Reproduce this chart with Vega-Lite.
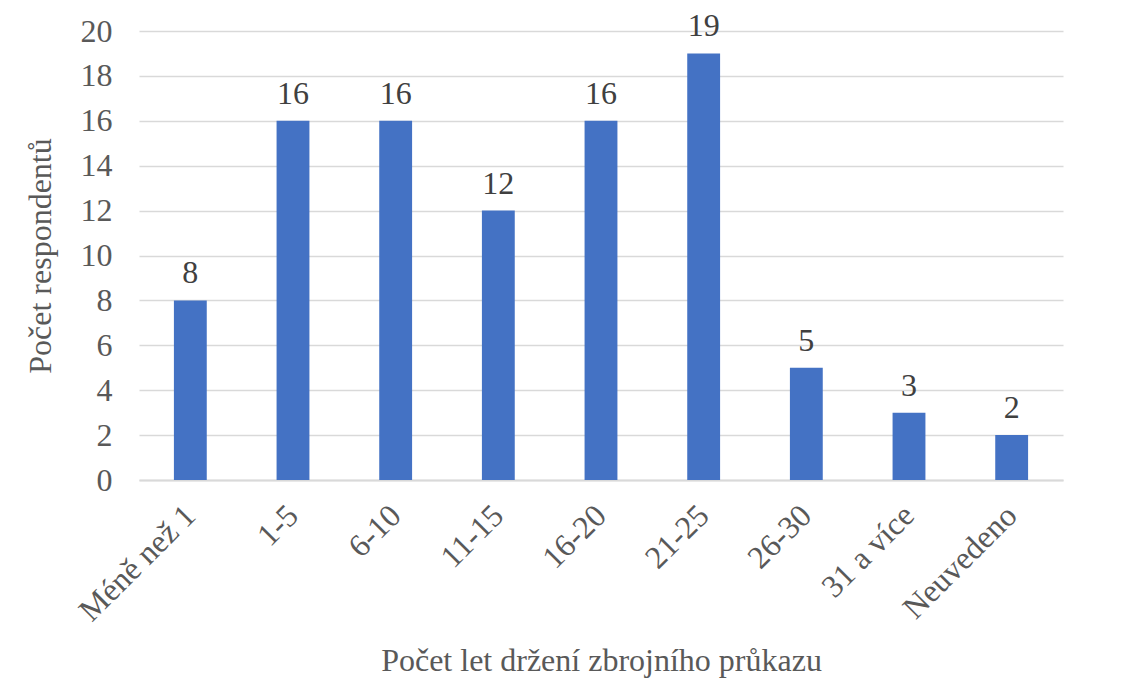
{
  "$schema": "https://vega.github.io/schema/vega-lite/v6.json",
  "width": 924,
  "height": 449,
  "autosize": {"type": "none"},
  "padding": {"left": 139, "top": 31, "right": 69, "bottom": 203},
  "background": "white",
  "config": {
    "view": {"stroke": null},
    "font": "Liberation Serif"
  },
  "data": {
    "values": [
      {"kat": "Méně než 1", "pocet": 8},
      {"kat": "1-5", "pocet": 16},
      {"kat": "6-10", "pocet": 16},
      {"kat": "11-15", "pocet": 12},
      {"kat": "16-20", "pocet": 16},
      {"kat": "21-25", "pocet": 19},
      {"kat": "26-30", "pocet": 5},
      {"kat": "31 a více", "pocet": 3},
      {"kat": "Neuvedeno", "pocet": 2}
    ]
  },
  "encoding": {
    "x": {
      "field": "kat", "type": "nominal", "sort": null,
      "scale": {"paddingInner": 0.68, "paddingOuter": 0.34},
      "axis": {
        "title": "Počet let držení zbrojního průkazu",
        "titleFont": "Liberation Serif", "titleFontSize": 32, "titleFontWeight": "normal", "titleColor": "#595959",
        "titleY": 180, "titleBaseline": "middle",
        "labelAngle": -45, "labelAlign": "right", "labelBaseline": "middle",
        "labelFont": "Liberation Serif", "labelFontSize": 32, "labelColor": "#595959",
        "labelPadding": 30,
        "ticks": false, "domainColor": "#d9d9d9", "domainWidth": 2
      }
    },
    "y": {
      "field": "pocet", "type": "quantitative",
      "scale": {"domain": [0, 20], "nice": false},
      "axis": {
        "title": "Počet respondentů",
        "values": [0, 2, 4, 6, 8, 10, 12, 14, 16, 18, 20],
        "titleFont": "Liberation Serif", "titleFontSize": 32, "titleFontWeight": "normal", "titleColor": "#595959",
        "titleX": -99, "titleBaseline": "middle",
        "labelFont": "Liberation Serif", "labelFontSize": 32, "labelColor": "#595959",
        "labelPadding": 27,
        "ticks": false, "domain": false,
        "gridColor": "#d9d9d9", "gridWidth": 1.5
      }
    }
  },
  "layer": [
    {"mark": {"type": "bar", "color": "#4472C4"}},
    {
      "mark": {"type": "text", "baseline": "bottom", "dy": -10, "fontSize": 32, "font": "Liberation Serif", "color": "#404040"},
      "encoding": {"text": {"field": "pocet", "type": "quantitative"}}
    }
  ]
}
